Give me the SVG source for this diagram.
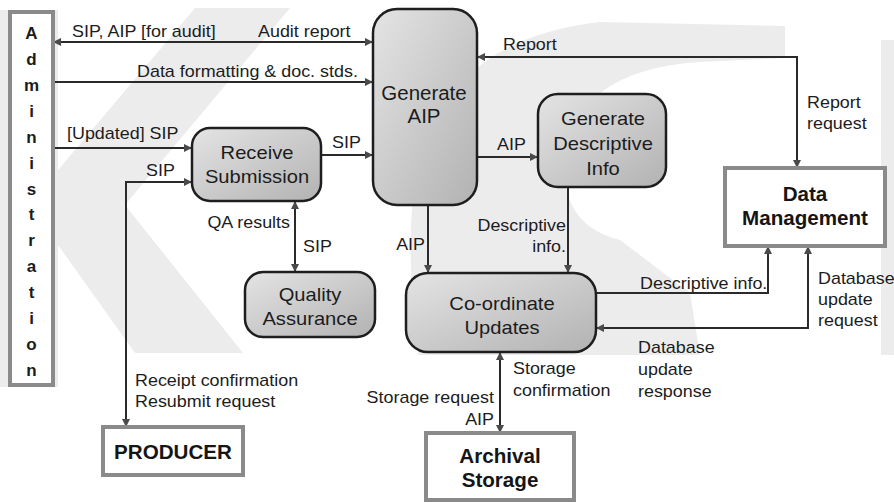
<svg xmlns="http://www.w3.org/2000/svg" width="894" height="503" viewBox="0 0 894 503">
<style>
.t{font-family:"Liberation Sans",Arial,sans-serif;font-size:16px;fill:#1c1c1c}
.bx{font-family:"Liberation Sans",Arial,sans-serif;font-size:18px;fill:#1c1c1c;text-anchor:middle}
.bd{font-family:"Liberation Sans",Arial,sans-serif;font-size:20px;font-weight:bold;fill:#151515;text-anchor:middle}
.adm{font-family:"Liberation Sans",Arial,sans-serif;font-size:17px;font-weight:bold;fill:#1c1c1c;text-anchor:middle}
.e{text-anchor:end}
.proc{fill:url(#g);stroke:#1e1e1e;stroke-width:2.5}
.ent{fill:#fff;stroke:#8a8a8a;stroke-width:4}
.ln{fill:none;stroke:#2a2a2a;stroke-width:2}
.wm{fill:#ececec}
</style>
<defs>
<linearGradient id="g" x1="0" y1="0" x2="1" y2="1">
<stop offset="0" stop-color="#e4e4e4"/>
<stop offset="1" stop-color="#b2b2b2"/>
</linearGradient>
<marker id="a" viewBox="0 0 10 10" refX="10" refY="5" markerWidth="9" markerHeight="8" markerUnits="userSpaceOnUse" orient="auto-start-reverse">
<path d="M0,0 L10,5 L0,10 z" fill="#4a4a4a"/>
</marker>
</defs>
<rect width="894" height="503" fill="#fff"/>
<g id="watermark">
<rect class="wm" x="0" y="10" width="58" height="377"/>
<polygon class="wm" points="58,170 195,8 290,8 125,205 243,353 135,353 58,245"/>
<path class="wm" d="M785,26 L785,58 L700,62 Q575,70 565,160 Q560,225 620,240 L690,293 L700,355 L418,355 Q405,250 415,180 Q440,40 600,22 Z"/>
<rect class="wm" x="881" y="40" width="13" height="315"/>
</g>
<g id="connectors">
<line class="ln" x1="53" y1="42" x2="373" y2="42" marker-start="url(#a)" marker-end="url(#a)"/>
<line class="ln" x1="53" y1="82" x2="373" y2="82" marker-end="url(#a)"/>
<line class="ln" x1="53" y1="148" x2="192" y2="148" marker-end="url(#a)"/>
<line class="ln" x1="321" y1="155" x2="373" y2="155" marker-end="url(#a)"/>
<polyline class="ln" points="126,427 126,182 192,182" marker-start="url(#a)" marker-end="url(#a)"/>
<line class="ln" x1="295" y1="201" x2="295" y2="272" marker-start="url(#a)" marker-end="url(#a)"/>
<line class="ln" x1="428" y1="205" x2="428" y2="273" marker-end="url(#a)"/>
<line class="ln" x1="568" y1="187" x2="568" y2="273" marker-end="url(#a)"/>
<line class="ln" x1="477" y1="157" x2="538" y2="157" marker-end="url(#a)"/>
<polyline class="ln" points="797,168 797,57 477,57" marker-start="url(#a)" marker-end="url(#a)"/>
<polyline class="ln" points="596,293 768,293 768,246" marker-end="url(#a)"/>
<polyline class="ln" points="808,246 808,328 596,328" marker-start="url(#a)" marker-end="url(#a)"/>
<line class="ln" x1="500" y1="352" x2="500" y2="433" marker-start="url(#a)" marker-end="url(#a)"/>
</g>
<g id="labels">
<text class="t" transform="translate(72,37) scale(1.12 1)">SIP, AIP [for audit]</text>
<text class="t" transform="translate(258,37) scale(1.12 1)">Audit report</text>
<text class="t" transform="translate(137,77) scale(1.12 1)">Data formatting &amp; doc. stds.</text>
<text class="t" transform="translate(67,139) scale(1.12 1)">[Updated] SIP</text>
<text class="t" transform="translate(332,148) scale(1.12 1)">SIP</text>
<text class="t" transform="translate(146,176) scale(1.12 1)">SIP</text>
<text class="t e" transform="translate(290,228) scale(1.12 1)">QA results</text>
<text class="t" transform="translate(303,252) scale(1.12 1)">SIP</text>
<text class="t e" transform="translate(425,250) scale(1.12 1)">AIP</text>
<text class="t e" transform="translate(566,231) scale(1.12 1)">Descriptive<tspan x="0" dy="21">info.</tspan></text>
<text class="t" transform="translate(497,150) scale(1.12 1)">AIP</text>
<text class="t" transform="translate(503,50) scale(1.12 1)">Report</text>
<text class="t" transform="translate(807,108) scale(1.12 1)">Report<tspan x="0" dy="21">request</tspan></text>
<text class="t" transform="translate(640,289) scale(1.12 1)">Descriptive info.</text>
<text class="t" transform="translate(818,284) scale(1.12 1)">Database<tspan x="0" dy="21">update</tspan><tspan x="0" dy="21">request</tspan></text>
<text class="t" transform="translate(638,353) scale(1.12 1)">Database<tspan x="0" dy="22">update</tspan><tspan x="0" dy="22">response</tspan></text>
<text class="t" transform="translate(513,374) scale(1.12 1)">Storage<tspan x="0" dy="22">confirmation</tspan></text>
<text class="t e" transform="translate(494,403) scale(1.12 1)">Storage request</text>
<text class="t e" transform="translate(494,425) scale(1.12 1)">AIP</text>
<text class="t" transform="translate(135,386) scale(1.12 1)">Receipt confirmation<tspan x="0" dy="21">Resubmit request</tspan></text>
</g>
<g id="administration">
<rect class="ent" x="10" y="12" width="43" height="373"/>
<text class="adm" x="31.5" y="39">A</text>
<text class="adm" x="31.5" y="65">d</text>
<text class="adm" x="31.5" y="91">m</text>
<text class="adm" x="31.5" y="117">i</text>
<text class="adm" x="31.5" y="143">n</text>
<text class="adm" x="31.5" y="169">i</text>
<text class="adm" x="31.5" y="195">s</text>
<text class="adm" x="31.5" y="220">t</text>
<text class="adm" x="31.5" y="246">r</text>
<text class="adm" x="31.5" y="272">a</text>
<text class="adm" x="31.5" y="298">t</text>
<text class="adm" x="31.5" y="324">i</text>
<text class="adm" x="31.5" y="350">o</text>
<text class="adm" x="31.5" y="376">n</text>
</g>
<g id="generate-aip">
<rect class="proc" x="373" y="9" width="104" height="196" rx="24"/>
<text class="bx" transform="translate(424,100) scale(1.05 1)" style="font-size:19.5px">Generate<tspan x="0" dy="23">AIP</tspan></text>
</g>
<g id="receive-submission">
<rect class="proc" x="192" y="128" width="129" height="73" rx="18"/>
<text class="bx" transform="translate(257,159) scale(1.12 1)">Receive<tspan x="0" dy="24">Submission</tspan></text>
</g>
<g id="generate-descriptive-info">
<rect class="proc" x="538" y="94" width="128" height="93" rx="20"/>
<text class="bx" transform="translate(603,125) scale(1.12 1)">Generate<tspan x="0" dy="25">Descriptive</tspan><tspan x="0" dy="25">Info</tspan></text>
</g>
<g id="quality-assurance">
<rect class="proc" x="245" y="272" width="130" height="65" rx="18"/>
<text class="bx" transform="translate(310,301) scale(1.12 1)">Quality<tspan x="0" dy="24">Assurance</tspan></text>
</g>
<g id="coordinate-updates">
<rect class="proc" x="406" y="273" width="190" height="79" rx="22"/>
<text class="bx" transform="translate(502,310) scale(1.12 1)">Co-ordinate<tspan x="0" dy="24">Updates</tspan></text>
</g>
<g id="data-management">
<rect class="ent" x="725" y="168" width="160" height="78"/>
<text class="bd" transform="translate(805,201) scale(1.03 1)">Data<tspan x="0" dy="24">Management</tspan></text>
</g>
<g id="producer">
<rect class="ent" x="103" y="427" width="140" height="48"/>
<text class="bd" transform="translate(173,459) scale(1.03 1)">PRODUCER</text>
</g>
<g id="archival-storage">
<rect class="ent" x="426" y="433" width="148" height="67"/>
<text class="bd" transform="translate(500,463) scale(1.03 1)">Archival<tspan x="0" dy="24">Storage</tspan></text>
</g>
</svg>
